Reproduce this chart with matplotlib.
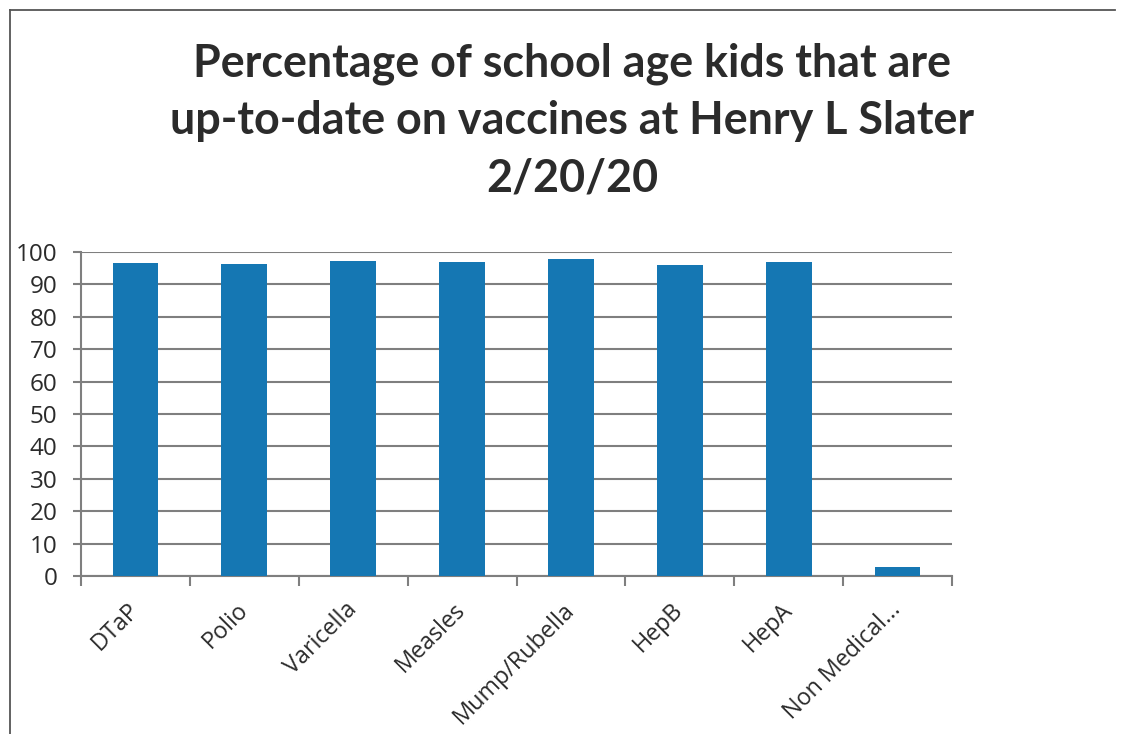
import matplotlib
matplotlib.use("Agg")
import matplotlib.pyplot as plt
from matplotlib.lines import Line2D

# vaccines and % up-to-date
vacunas = ["DTaP", "Polio", "Varicella", "Measles", "Mump/Rubella", "HepB", "HepA", "Non Medical..."]
porcentaje = [96.5, 96.2, 97.1, 97.0, 97.9, 96.0, 96.9, 2.9]
y_ticks = [0, 10, 20, 30, 40, 50, 60, 70, 80, 90, 100]

gris = "#7f7f7f"
azul = "#1577b3"
texto = "#2b2b2b"

fig = plt.figure(figsize=(11.24, 7.34), dpi=100)
fig.patch.set_facecolor("white")

# scanned page border (left and top)
fig.add_artist(Line2D([10/1124, 1115/1124], [1-10/734, 1-10/734], color="#555555", lw=1.3))
fig.add_artist(Line2D([10/1124, 10/1124], [0, 1-10/734], color="#555555", lw=1.3))

ax = fig.add_axes([81/1124, 1-576/734, 871/1124, 324/734])
x = range(len(vacunas))
ax.bar(x, porcentaje, width=0.42, color=azul, zorder=3)

ax.set_xlim(-0.5, len(vacunas) - 0.5)
ax.set_ylim(0, 100)
ax.set_yticks(y_ticks)
ax.set_yticklabels([str(v) for v in y_ticks], fontsize=17.5, family="Open Sans", color=texto)
ax.yaxis.grid(True, color=gris, lw=1.5, zorder=0)

# x ticks between categories, labels at centers
ax.set_xticks([i - 0.5 for i in range(len(vacunas) + 1)])
ax.set_xticklabels([])
ax.set_xticks(list(x), minor=True)
ax.set_xticklabels(vacunas, minor=True, rotation=45, ha="right", va="center",
                   rotation_mode="anchor", fontsize=16.8, family="Open Sans", color=texto)
ax.tick_params(axis="x", which="minor", length=0, pad=22)
ax.tick_params(axis="x", which="major", length=7, width=1.5, color=gris, direction="out")
ax.tick_params(axis="y", length=6, width=1.5, color=gris, pad=11)

for s in ["top", "right"]:
    ax.spines[s].set_visible(False)
for s in ["left", "bottom"]:
    ax.spines[s].set_color(gris)
    ax.spines[s].set_linewidth(1.5)

fig.text(572/1124, 1-121/734,
         "Percentage of school age kids that are\nup-to-date on vaccines at Henry L Slater\n2/20/20",
         ha="center", va="center", fontsize=32.3, fontweight="bold", family="Lato",
         color=texto, linespacing=1.46)

fig.savefig("out.png", dpi=100)
